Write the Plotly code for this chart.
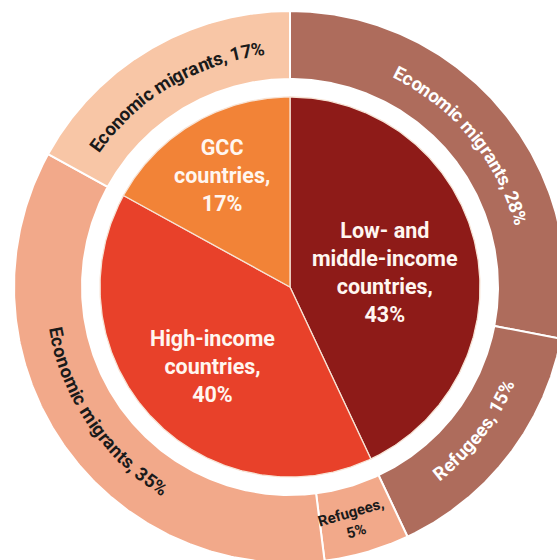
import numpy as np
import plotly.graph_objects as go

# ---- data -------------------------------------------------------------
inner_labels = ["Low- and<br>middle-income<br>countries", "High-income<br>countries", "GCC<br>countries"]
inner_values = [43, 40, 17]

outer_labels = ["Economic migrants", "Refugees", "Refugees", "Economic migrants", "Economic migrants"]
outer_values = [28, 15, 5, 35, 17]

# ---- styling ----------------------------------------------------------
inner_colors = ["#8E1B18", "#E8412A", "#F28337"]
outer_colors = ["#AE6C5C", "#AE6C5C", "#F2A98A", "#F2A98A", "#F8C6A6"]
outer_text_colors = ["white", "white", "#1A1A1A", "#1A1A1A", "#1A1A1A"]

W, H = 557, 560
CX_LEFT, CY_TOP = 290, 287          # pixel position of the chart centre
R_PIE, R_RING_IN, R_RING_OUT = 190, 208, 276
R_TEXT = 239
FONT = "Roboto"
INNER_SIZE = 21.5
OUTER_SIZE = 18.5
SMALL_SIZE = 15

# inner label placement: (radius, angle nudge in degrees)
inner_label_pos = [(96, 4.0), (111, -2.7), (131, -0.7)]

# approximate Roboto Bold advance widths (em)
ADV = {"E": 0.56, "R": 0.63, "c": 0.52, "o": 0.57, "n": 0.56, "m": 0.88, "i": 0.26,
       "g": 0.57, "r": 0.36, "a": 0.54, "t": 0.34, "s": 0.52, "e": 0.54, "f": 0.36,
       "u": 0.56, ",": 0.22, " ": 0.25, "%": 0.73}
for d in "0123456789":
    ADV[d] = 0.56


def polar(theta_deg, r):
    """Clockwise angle from 12 o'clock -> x/y (y up)."""
    t = np.radians(theta_deg)
    return r * np.sin(t), r * np.cos(t)


def wedge(a0, a1, r0, r1, n=240):
    t = np.linspace(a0, a1, n)
    xo, yo = polar(t, r1)
    if r0 == 0:
        xs = np.concatenate([[0], xo, [0]])
        ys = np.concatenate([[0], yo, [0]])
    else:
        xi, yi = polar(t[::-1], r0)
        xs = np.concatenate([xo, xi, xo[:1]])
        ys = np.concatenate([yo, yi, yo[:1]])
    return xs, ys


def bounds(values):
    cum = np.concatenate([[0], np.cumsum(values)]) / np.sum(values) * 360.0
    return cum[:-1], cum[1:]


fig = go.Figure()

# inner pie
a0s, a1s = bounds(inner_values)
for a0, a1, col in zip(a0s, a1s, inner_colors):
    xs, ys = wedge(a0, a1, 0, R_PIE)
    fig.add_trace(go.Scatter(x=xs, y=ys, mode="lines", fill="toself", fillcolor=col,
                             line=dict(color="#F7E3D5", width=1.3), hoverinfo="skip",
                             showlegend=False))

# outer ring
b0s, b1s = bounds(outer_values)
for a0, a1, col in zip(b0s, b1s, outer_colors):
    xs, ys = wedge(a0, a1, R_RING_IN, R_RING_OUT)
    fig.add_trace(go.Scatter(x=xs, y=ys, mode="lines", fill="toself", fillcolor=col,
                             line=dict(color="white", width=2), hoverinfo="skip",
                             showlegend=False))

annotations = []

# inner labels
for lab, val, a0, a1, (rr, nudge) in zip(inner_labels, inner_values, a0s, a1s, inner_label_pos):
    x, y = polar((a0 + a1) / 2 + nudge, rr)
    annotations.append(dict(x=x, y=y, text=f"{lab},<br>{val}%", showarrow=False,
                            xanchor="center", yanchor="middle",
                            font=dict(family=FONT, size=INNER_SIZE, color="#FFF6F0", weight=700)))


def arc_text(text, theta_c, r, size, color, clockwise):
    widths = [ADV.get(ch, 0.55) * size for ch in text]
    total = sum(widths)
    s = -total / 2
    for ch, w in zip(text, widths):
        mid = s + w / 2
        s += w
        if ch == " ":
            continue
        dth = np.degrees(mid / r)
        th = theta_c + dth if clockwise else theta_c - dth
        x, y = polar(th, r)
        ang = th if clockwise else th - 180
        annotations.append(dict(x=x, y=y, text=ch, showarrow=False, textangle=ang,
                                xanchor="center", yanchor="middle",
                                font=dict(family=FONT, size=size, color=color, weight=700)))


# outer labels: top half reads clockwise, bottom half counter-clockwise
for i, (lab, val, a0, a1) in enumerate(zip(outer_labels, outer_values, b0s, b1s)):
    mid = (a0 + a1) / 2
    if val < 8:
        x, y = polar(mid + 1.0, 244)
        annotations.append(dict(x=x, y=y, text=f"{lab},<br>{val}%", showarrow=False,
                                textangle=mid - 180, xanchor="center", yanchor="middle",
                                font=dict(family=FONT, size=SMALL_SIZE,
                                          color=outer_text_colors[i], weight=700)))
        continue
    clockwise = not (90 < mid < 270)
    arc_text(f"{lab}, {val}%", mid, R_TEXT, OUTER_SIZE, outer_text_colors[i], clockwise)

fig.update_layout(
    width=W, height=H,
    margin=dict(l=0, r=0, t=0, b=0),
    paper_bgcolor="white", plot_bgcolor="white",
    xaxis=dict(range=[-CX_LEFT, W - CX_LEFT], visible=False, fixedrange=True),
    yaxis=dict(range=[CY_TOP - H, CY_TOP], visible=False, fixedrange=True),
    annotations=annotations,
    showlegend=False,
)

fig.write_html("out.html")
